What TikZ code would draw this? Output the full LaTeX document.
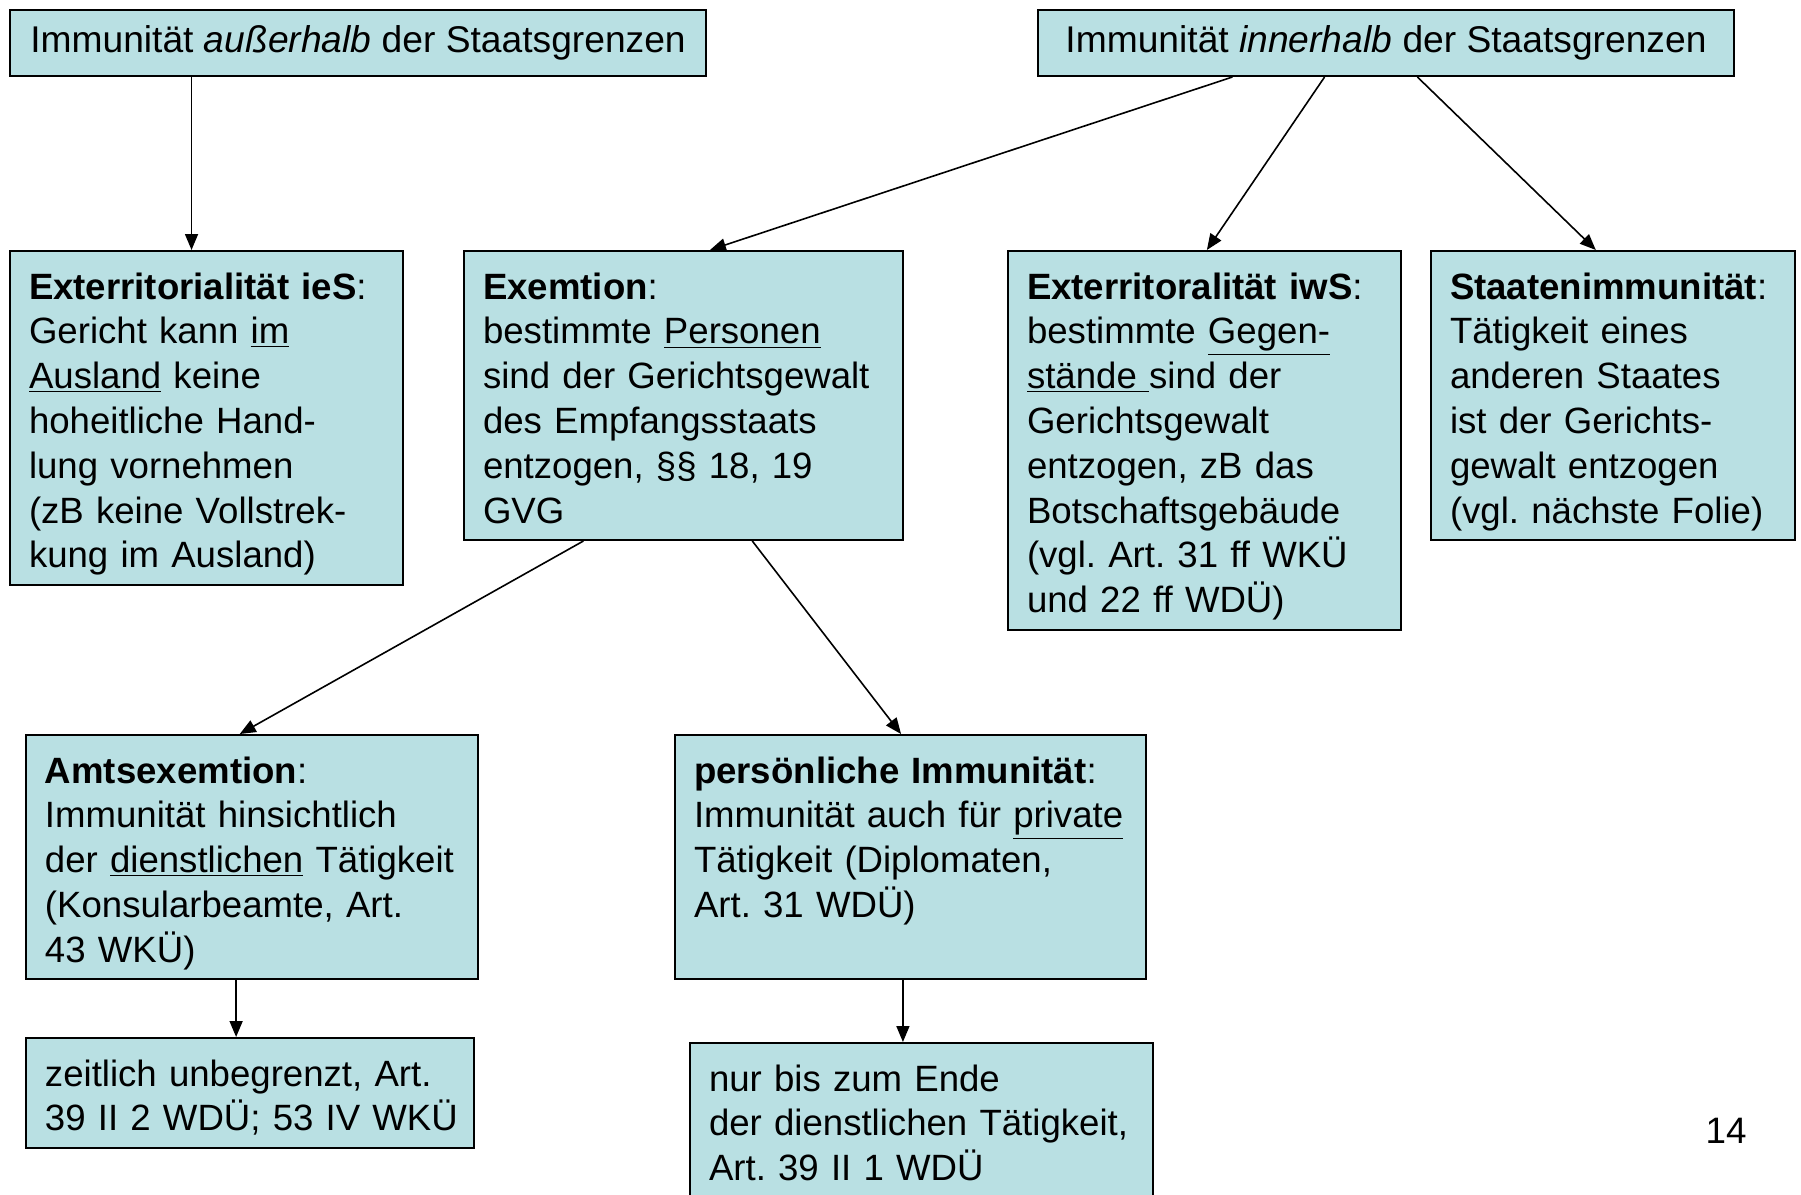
\documentclass[tikz,border=0pt]{standalone}
\usepackage{fontspec}
\setmainfont{Liberation Sans}
\usepackage{tikz}
\usetikzlibrary{arrows.meta, calc}
\definecolor{boxblue}{RGB}{185,224,227}
\frenchspacing

\begin{document}
\begin{tikzpicture}[x=0.5pt, y=-0.5pt,
  box/.style={draw=black, fill=boxblue, line width=1pt, anchor=north west,
    inner xsep=9.5pt, inner ysep=10pt, align=left, text height=14pt,
    font=\fontsize{18.3}{22.4}\selectfont},
  headbox/.style={draw=black, fill=boxblue, line width=1pt, anchor=north west,
    minimum width=348pt, minimum height=33pt, inner sep=0pt,
    font=\fontsize{18.6}{22.4}\selectfont},
  conn/.style={-{Triangle[length=8pt,width=6.5pt]}, line width=0.8pt}]
\useasboundingbox[fill=white] (0,0) rectangle (1801,1195);

% Top row
\node[headbox] (aus) at (9,9) {Immunität \textit{außerhalb} der Staatsgrenzen};
\node[headbox] (inn) at (1037,9) {Immunität \textit{innerhalb} der Staatsgrenzen};

% Second row
\node[box, text width=177.5pt, text depth=133pt] (ieS) at (9,250) {%
  \textbf{Exterritorialität ieS}:\\ Gericht kann \underline{im}\\ \underline{Ausland} keine\\
  hoheitliche Hand-\\ lung vornehmen\\ (zB keine Vollstrek-\\ kung im Ausland)};
\node[box, text width=200.5pt, text depth=110.5pt] (exem) at (463,250) {%
  \textbf{Exemtion}:\\ bestimmte \underline{Personen}\\ sind der Gerichtsgewalt\\
  des Empfangsstaats\\ entzogen, §§ 18, 19\\ GVG};
\node[box, text width=177.5pt, text depth=155.5pt] (iwS) at (1007,250) {%
  \textbf{Exterritoralität iwS}:\\ bestimmte \underline{Gegen-}\\ \underline{stände }sind der\\
  Gerichtsgewalt\\ entzogen, zB das\\ Botschaftsgebäude\\ (vgl. Art. 31 ff WKÜ\\ und 22 ff WDÜ)};
\node[box, text width=163pt, text depth=110.5pt] (staat) at (1430,250) {%
  \textbf{Staatenimmunität}:\\ Tätigkeit eines\\ anderen Staates\\ ist der Gerichts-\\
  gewalt entzogen\\ (vgl. nächste Folie)};

% Third row
\node[box, text width=207pt, text depth=88pt] (amts) at (25,734) {%
  \textbf{Amtsexemtion}:\\ Immunität hinsichtlich\\ der \underline{dienstlichen} Tätigkeit\\
  (Konsularbeamte, Art.\\ 43 WKÜ)};
\node[box, text width=216.5pt, text depth=88pt] (pers) at (674,734) {%
  \textbf{persönliche Immunität}:\\ Immunität auch für \underline{private}\\
  Tätigkeit (Diplomaten,\\ Art. 31 WDÜ)};

% Bottom row
\node[box, text width=205pt, text depth=21pt] (zeit) at (25,1037) {%
  zeitlich unbegrenzt, Art.\\ \mbox{39 II 2 WDÜ; 53 IV WKÜ}};
\node[box, text width=212.5pt, text depth=52.5pt] (nur) at (689,1042) {%
  nur bis zum Ende\\ der dienstlichen Tätigkeit,\\ Art. 39 II 1 WDÜ};

% Page number
\node[font=\fontsize{18.4}{22.4}\selectfont] (pnum) at (1726,1131) {14};

% Connections
\coordinate (a1) at ($(aus.south west)!0.2615!(aus.south east)$);
\draw[conn] (a1) -- (a1 |- ieS.north);
\draw[conn] ($(inn.south west)!0.28!(inn.south east)$) -- ($(exem.north west)!0.56!(exem.north east)$);
\draw[conn] ($(inn.south west)!0.412!(inn.south east)$) -- ($(iwS.north west)!0.506!(iwS.north east)$);
\draw[conn] ($(inn.south west)!0.545!(inn.south east)$) -- ($(staat.north west)!0.453!(staat.north east)$);
\draw[conn] ($(exem.south west)!0.273!(exem.south east)$) -- ($(amts.north west)!0.473!(amts.north east)$);
\draw[conn] ($(exem.south west)!0.656!(exem.south east)$) -- ($(pers.north west)!0.48!(pers.north east)$);
\coordinate (a2) at ($(amts.south west)!0.465!(amts.south east)$);
\draw[conn] (a2) -- (a2 |- zeit.north);
\coordinate (a3) at ($(pers.south west)!0.484!(pers.south east)$);
\draw[conn] (a3) -- (a3 |- nur.north);
\end{tikzpicture}
\end{document}
